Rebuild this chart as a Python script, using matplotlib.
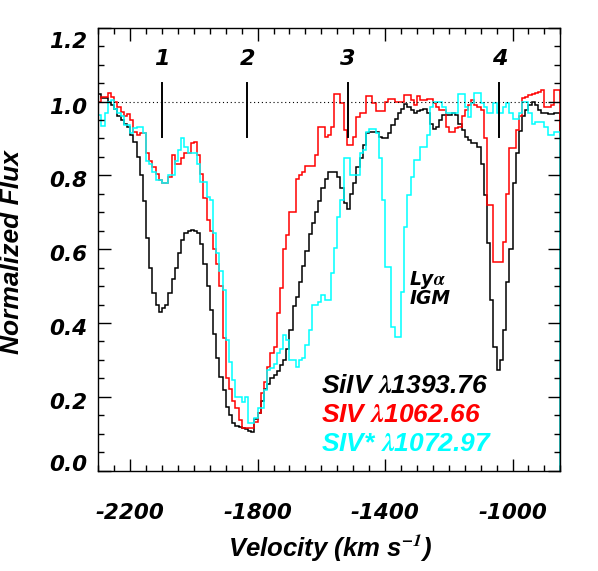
import numpy as np
import matplotlib
matplotlib.use("Agg")
import matplotlib.pyplot as plt
from matplotlib.ticker import MultipleLocator
from matplotlib.transforms import ScaledTranslation

plt.rcParams['font.family'] = ['DejaVu Sans']
plt.rcParams['font.weight'] = 'bold'
plt.rcParams['font.style'] = 'italic'
plt.rcParams['mathtext.fontset'] = 'stix'
plt.rcParams['axes.unicode_minus'] = False

# spectra binned at 10 km/s, first bin starts at -2300 km/s
v_start = -2300
v_step = 10

# SiIV 1393.76 (black)
flux_siiv = [
    1.02, 1.01, 1.01, 1.00, 0.99, 0.98, 0.96, 0.95, 0.94, 0.93,
    0.91, 0.89, 0.85, 0.80, 0.73, 0.63, 0.55, 0.48, 0.45, 0.43,
    0.44, 0.45, 0.48, 0.52, 0.55, 0.59, 0.625, 0.645, 0.65, 0.652,
    0.65, 0.645, 0.615, 0.56, 0.50, 0.435, 0.37, 0.305, 0.255, 0.218,
    0.173, 0.15, 0.128, 0.12, 0.118, 0.115, 0.112, 0.108, 0.106, 0.14,
    0.155, 0.19, 0.22, 0.235, 0.25, 0.26, 0.27, 0.285, 0.30, 0.33,
    0.38, 0.445, 0.47, 0.51, 0.555, 0.595, 0.64, 0.67, 0.70, 0.73,
    0.765, 0.79, 0.81, 0.81, 0.81, 0.796, 0.765, 0.724, 0.71, 0.75,
    0.778, 0.823, 0.846, 0.882, 0.914, 0.918, 0.918, 0.918, 0.905, 0.90,
    0.90, 0.914, 0.936, 0.954, 0.968, 0.981, 0.992, 0.986, 0.977, 0.97,
    0.973, 0.977, 0.979, 0.968, 0.94, 0.925, 0.93, 0.95, 0.963, 0.963,
    0.963, 0.97, 0.963, 0.94, 0.923, 0.905, 0.896, 0.887, 0.887, 0.878,
    0.832, 0.747, 0.616, 0.462, 0.336, 0.273, 0.30, 0.38, 0.51, 0.60,
    0.78, 0.86, 0.92, 0.96, 0.977, 0.99, 1.0, 0.99, 0.977, 0.97,
    0.97, 0.966, 0.966, 0.968, 0.968,
]

# SIV 1062.66 (red)
flux_siv = [
    1.00, 1.013, 1.013, 1.022, 1.013, 1.0, 0.986, 0.972, 0.96, 0.967,
    0.95, 0.918, 0.91, 0.914, 0.914, 0.86, 0.84, 0.823, 0.805, 0.787,
    0.778, 0.78, 0.796, 0.855, 0.832, 0.832, 0.846, 0.86, 0.86, 0.887,
    0.89, 0.855, 0.805, 0.738, 0.68, 0.65, 0.60, 0.56, 0.50, 0.36,
    0.25, 0.22, 0.19, 0.17, 0.137, 0.115, 0.115, 0.115, 0.115, 0.133,
    0.155, 0.21, 0.24, 0.28, 0.318, 0.336, 0.426, 0.494, 0.60, 0.638,
    0.70, 0.70, 0.79, 0.80, 0.81, 0.826, 0.826, 0.826, 0.855, 0.93,
    0.93, 0.905, 0.909, 0.932, 1.02, 1.02, 0.995, 0.923, 0.882, 0.882,
    0.905, 0.959, 0.968, 0.968, 1.015, 1.015, 0.995, 0.975, 0.975, 0.975,
    1.0, 1.006, 1.006, 1.0, 1.0, 1.0, 1.018, 1.018, 1.004, 0.99,
    1.015, 1.005, 1.005, 1.008, 1.008, 0.995, 0.986, 0.977, 0.977, 0.932,
    0.918, 0.918, 0.927, 0.93, 0.96, 0.977, 0.99, 1.004, 0.99, 0.986,
    0.977, 0.90, 0.72, 0.72, 0.566, 0.566, 0.566, 0.62, 0.75, 0.873,
    0.873, 0.923, 0.96, 1.01, 1.013, 1.018, 1.02, 1.022, 1.027, 1.03,
    0.986, 0.986, 0.99, 1.03, 1.03,
]

# SIV* 1072.97 (cyan)
flux_sivs = [
    0.963, 0.933, 0.97, 0.998, 1.004, 0.98, 0.97, 0.96, 0.936, 0.936,
    0.914, 0.927, 0.93, 0.93, 0.914, 0.84, 0.83, 0.81, 0.787, 0.787,
    0.778, 0.778, 0.80, 0.80, 0.84, 0.869, 0.90, 0.878, 0.86, 0.86,
    0.86, 0.832, 0.783, 0.783, 0.742, 0.733, 0.643, 0.589, 0.54, 0.49,
    0.354, 0.295, 0.245, 0.20, 0.20, 0.187, 0.20, 0.128, 0.128, 0.142,
    0.169, 0.169, 0.218, 0.273, 0.277, 0.289, 0.318, 0.33, 0.367, 0.354,
    0.30, 0.30, 0.282, 0.30, 0.304, 0.34, 0.38, 0.449, 0.449, 0.458,
    0.476, 0.462, 0.462, 0.535, 0.602, 0.688, 0.733, 0.846, 0.846, 0.80,
    0.80, 0.80, 0.86, 0.868, 0.918, 0.925, 0.925, 0.914, 0.846, 0.733,
    0.553, 0.553, 0.39, 0.363, 0.363, 0.485, 0.661, 0.747, 0.796, 0.841,
    0.841, 0.878, 0.878, 0.909, 0.986, 1.0, 1.0, 1.0, 0.986, 0.968,
    0.968, 0.968, 0.968, 1.02, 1.02, 0.985, 0.959, 0.995, 1.022, 1.022,
    0.995, 0.986, 0.968, 0.968, 0.995, 0.968, 0.968, 0.986, 0.995, 0.968,
    0.954, 0.954, 0.97, 1.0, 1.0, 0.968, 0.94, 0.945, 0.945, 0.945,
    0.932, 0.909, 0.909, 0.918, 0.918,
]

# component markers
marker_vel = [-2101, -1832, -1517, -1041]
marker_lab = ['1', '2', '3', '4']

legend_lines = [r'SiIV $\lambda$1393.76', r'SIV $\lambda$1062.66', r'SIV* $\lambda$1072.97']
legend_cols = ['black', 'red', 'cyan']

xtick_vals = [-2200, -1800, -1400, -1000]
ytick_vals = [0.0, 0.2, 0.4, 0.6, 0.8, 1.0, 1.2]
ytick_labs = ['0.0', '0.2', '0.4', '0.6', '0.8', '1.0', '1.2']

edges = v_start + v_step * np.arange(len(flux_siiv) + 1)

fig = plt.figure(figsize=(5.98, 5.71), dpi=100)
ax = fig.add_axes([0.1644, 0.1757, 0.7726, 0.7758])

ax.stairs(flux_siiv, edges, color='black', lw=1.1)
ax.stairs(flux_siv, edges, color='red', lw=1.1)
ax.stairs(flux_sivs, edges, color='cyan', lw=1.1)

ax.axhline(1.0, color='black', lw=0.8, ls=(0, (1, 2.5)))

for v, lab in zip(marker_vel, marker_lab):
    ax.plot([v, v], [0.904, 1.05], color='black', lw=1.4)
    ax.text(v, 1.099, lab, ha='center', va='baseline', fontsize=16)

ax.text(-1324, 0.504, r'Ly$\alpha$', fontsize=13.5, va='baseline')
ax.text(-1324, 0.451, 'IGM', fontsize=13.5, va='baseline')

for i, (txt, c) in enumerate(zip(legend_lines, legend_cols)):
    ax.text(-1602, 0.21 - 0.079 * i, txt, color=c, fontsize=19,
            va='baseline', family='Liberation Sans')

ax.set_xlim(-2300, -850)
ax.set_ylim(0, 1.2)
ax.xaxis.set_minor_locator(MultipleLocator(50))
ax.yaxis.set_minor_locator(MultipleLocator(0.05))
ax.set_xticks(xtick_vals)
ax.set_xticklabels([str(v) for v in xtick_vals])
ax.set_yticks(ytick_vals)
ax.set_yticklabels(ytick_labs)

ax.tick_params(which='both', direction='in', top=True, right=True, width=1.0, labelsize=15.5)
ax.tick_params(which='major', length=9)
ax.tick_params(which='minor', length=4.5)
ax.tick_params(axis='x', pad=23)
ax.tick_params(axis='y', pad=8)
for s in ax.spines.values():
    s.set_linewidth(1.0)

# nudge y labels down a little, like the original layout; bottom one sits on its baseline
shift = ScaledTranslation(0, -4 / 100, fig.dpi_scale_trans)
ylabs = ax.get_yticklabels()
for lab in ylabs[1:]:
    lab.set_transform(lab.get_transform() + shift)
ylabs[0].set_va('baseline')
ylabs[-1].set_va('top')

fig.text(330 / 598, 1 - 548 / 571, r'Velocity (km s$^{\mathbf{-1}}$)', ha='center', va='center',
         fontsize=18.5, family='Liberation Sans')
fig.text(12 / 598, 1 - 252 / 571, 'Normalized Flux', ha='center', va='center', rotation=90,
         fontsize=19, family='Liberation Sans')

fig.savefig('out.png', dpi=100)
